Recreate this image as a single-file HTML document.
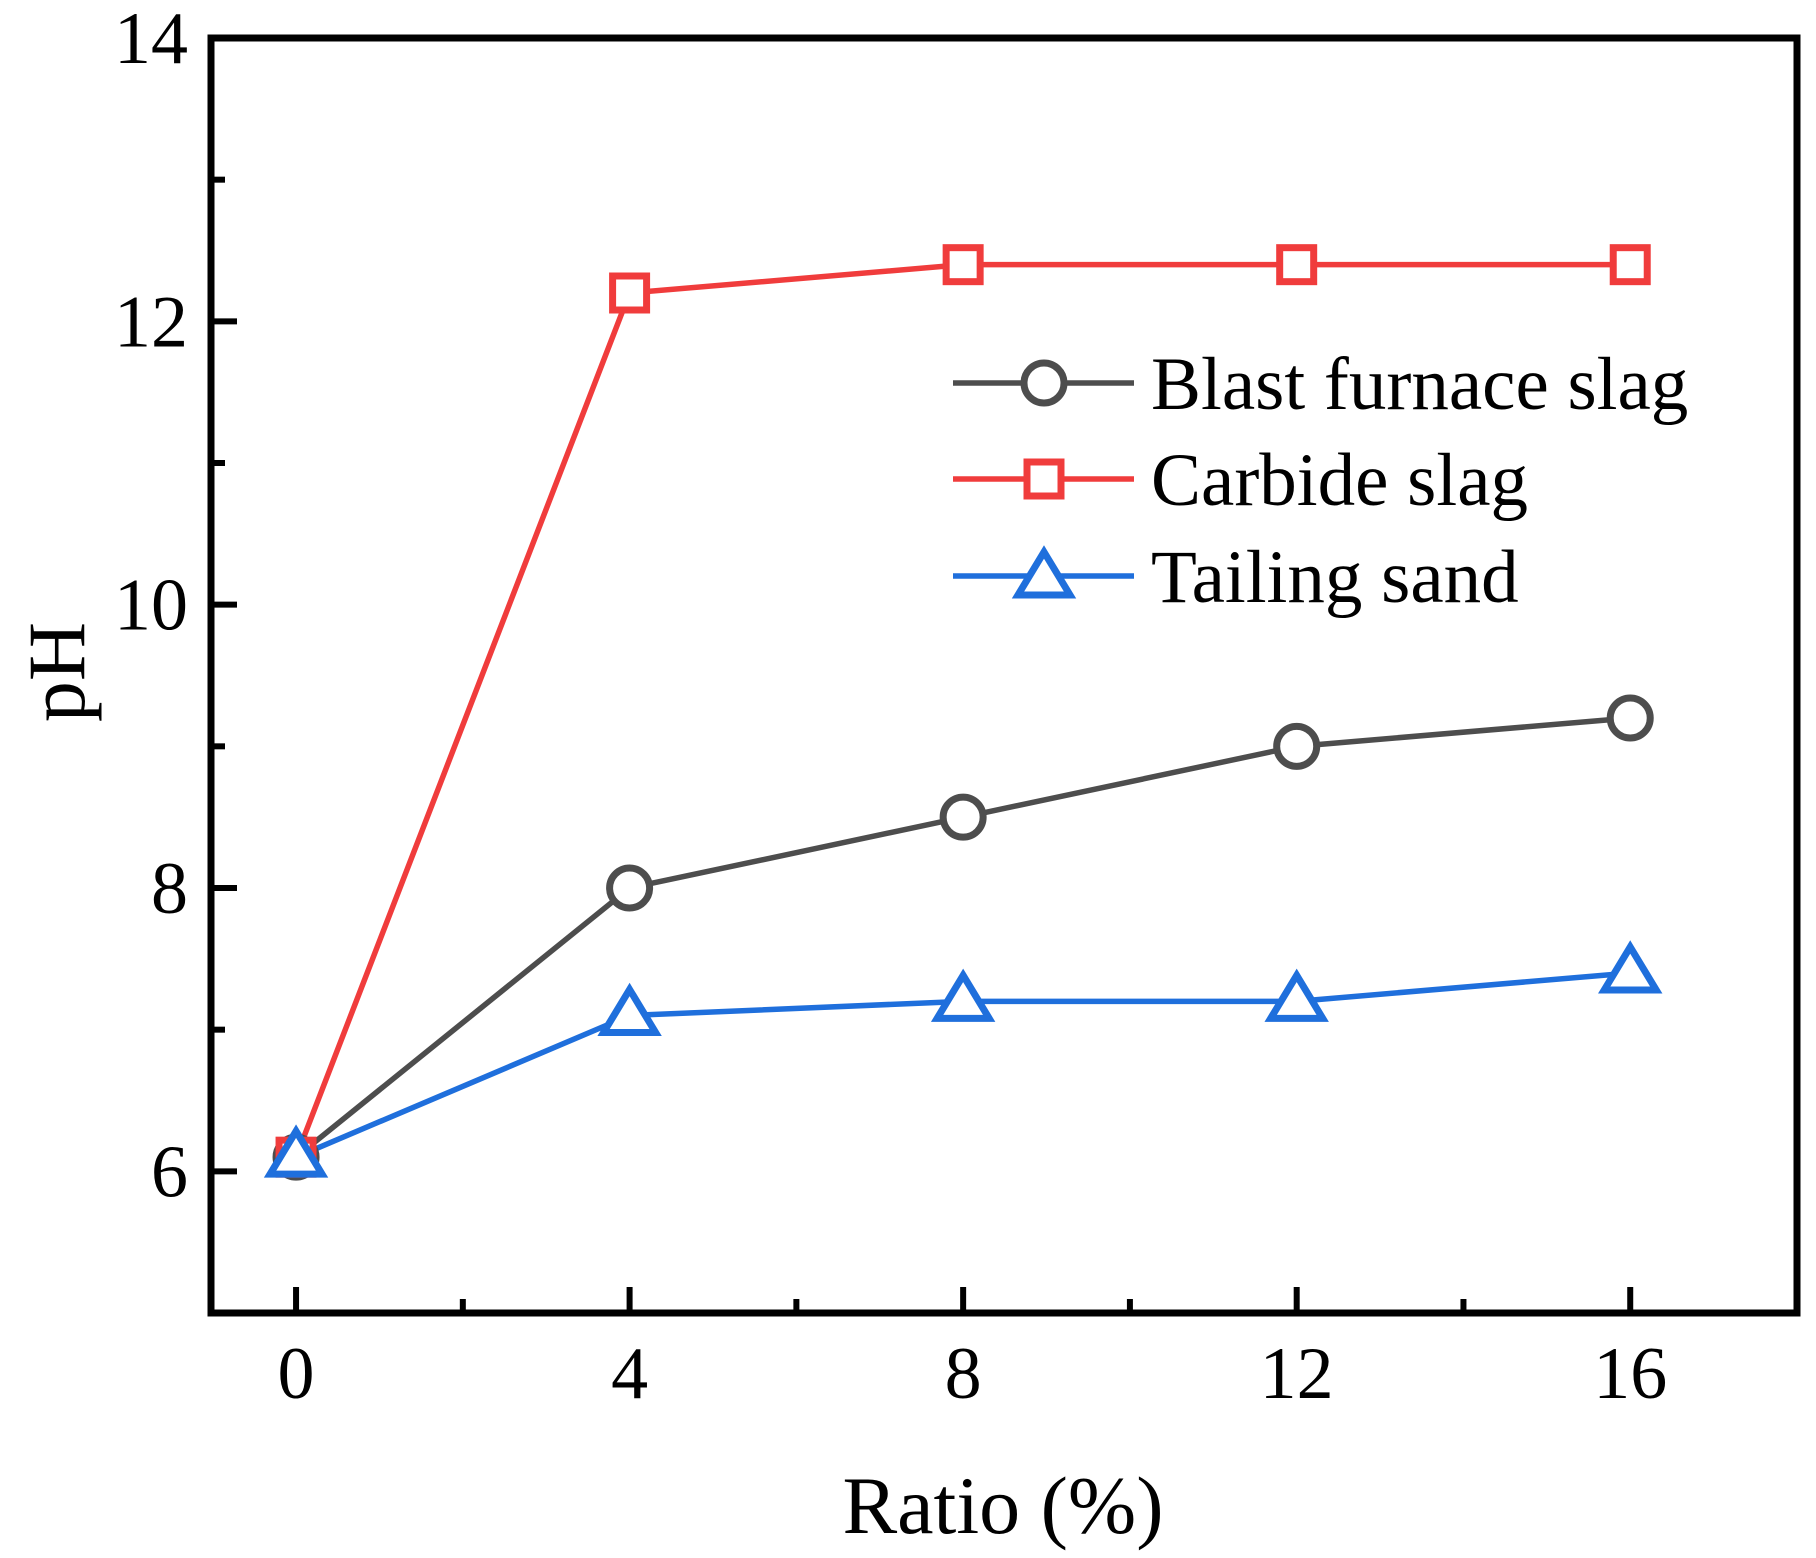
<!DOCTYPE html>
<html><head><meta charset="utf-8"><style>body{margin:0;background:#fff}svg{display:block}text{font-family:"Liberation Serif",serif;fill:#000}</style></head>
<body>
<svg id="chart" width="1816" height="1558" viewBox="0 0 1816 1558" xmlns="http://www.w3.org/2000/svg"></svg>
<script>
const categories=[0,4,8,12,16];
const blastFurnace=[6.1,8.0,8.5,9.0,9.2];
const carbide=[6.1,12.2,12.4,12.4,12.4];
const tailing=[6.1,7.1,7.2,7.2,7.4];
const xTicks=[0,4,8,12,16];
const yTicks=[6,8,10,12,14];
const seriesNames=["Blast furnace slag","Carbide slag","Tailing sand"];

const L=211,R=1797,T=38,B=1313;
const xMin=-1.02,xMax=18,yMin=5,yMax=14;
const X=v=>L+(v-xMin)/(xMax-xMin)*(R-L);
const Y=v=>B-(v-yMin)/(yMax-yMin)*(B-T);
const NS="http://www.w3.org/2000/svg";
const svg=document.getElementById('chart');
function mk(tag,attrs,parent){const e=document.createElementNS(NS,tag);for(const k in attrs)e.setAttribute(k,attrs[k]);(parent||svg).appendChild(e);return e;}

for(let v=0;v<=16;v+=2){const x=X(v);const major=v%4===0;
 const t=mk('line',{x1:x,x2:x,y1:B,y2:B-(major?26:14),stroke:'#000','stroke-width':6});
 
 }
for(let v=6;v<=14;v+=1){const y=Y(v);const major=v%2===0;
 const t=mk('line',{x1:L,x2:L+(major?26:14),y1:y,y2:y,stroke:'#000','stroke-width':6});
 
 }
xTicks.forEach(v=>{const t=mk('text',{x:X(v),y:1398,'font-size':74,'text-anchor':'middle'});t.textContent=v;
 
 });
yTicks.forEach(v=>{const t=mk('text',{x:188,y:Y(v)+25,'font-size':74,'text-anchor':'end'});t.textContent=v;
 
 });

const colors=['#4d4d4d','#f03c3c','#1f6fdc'];
const data=[blastFurnace,carbide,tailing];
const shapes=['circle','square','triangle'];
function marker(shape,cx,cy,color,name){
 let e;
 if(shape==='circle')e=mk('circle',{cx:cx,cy:cy,r:20,fill:'#fff',stroke:color,'stroke-width':7});
 else if(shape==='square')e=mk('rect',{x:cx-17,y:cy-17,width:34,height:34,fill:'#fff',stroke:color,'stroke-width':7});
 else e=mk('polygon',{points:`${cx},${cy-26} ${cx+26},${cy+17} ${cx-26},${cy+17}`,fill:'#fff',stroke:color,'stroke-width':7,'stroke-linejoin':'miter'});
 
 
}
data.forEach((s,i)=>{
 const pts=s.map((v,j)=>X(categories[j])+','+Y(v)).join(' ');
 const p=mk('polyline',{points:pts,fill:'none',stroke:colors[i],'stroke-width':5.5});
 
 
});
data.forEach((s,i)=>{s.forEach((v,j)=>marker(shapes[i],X(categories[j]),Y(v),colors[i],'data-point'));});

const ly=[383,479,576];
seriesNames.forEach((n,i)=>{
 const l=mk('line',{x1:953,x2:1134,y1:ly[i],y2:ly[i],stroke:colors[i],'stroke-width':5.5});
 
 
 marker(shapes[i],1044,ly[i]+(i===2?2:0),colors[i],'legend-marker');
 const t=mk('text',{x:1151,y:ly[i]+26,'font-size':75});t.textContent=n;
 
 
});

const f=mk('rect',{x:L,y:T,width:R-L,height:B-T,fill:'none',stroke:'#000','stroke-width':7});



const xt=mk('text',{x:1003,y:1533,'font-size':82,'text-anchor':'middle'});xt.textContent='Ratio (%)';


const yt=mk('text',{x:0,y:0,'font-size':82,'text-anchor':'middle',transform:'translate(84,672) rotate(-90)'});yt.textContent='pH';


</script>
</body></html>
